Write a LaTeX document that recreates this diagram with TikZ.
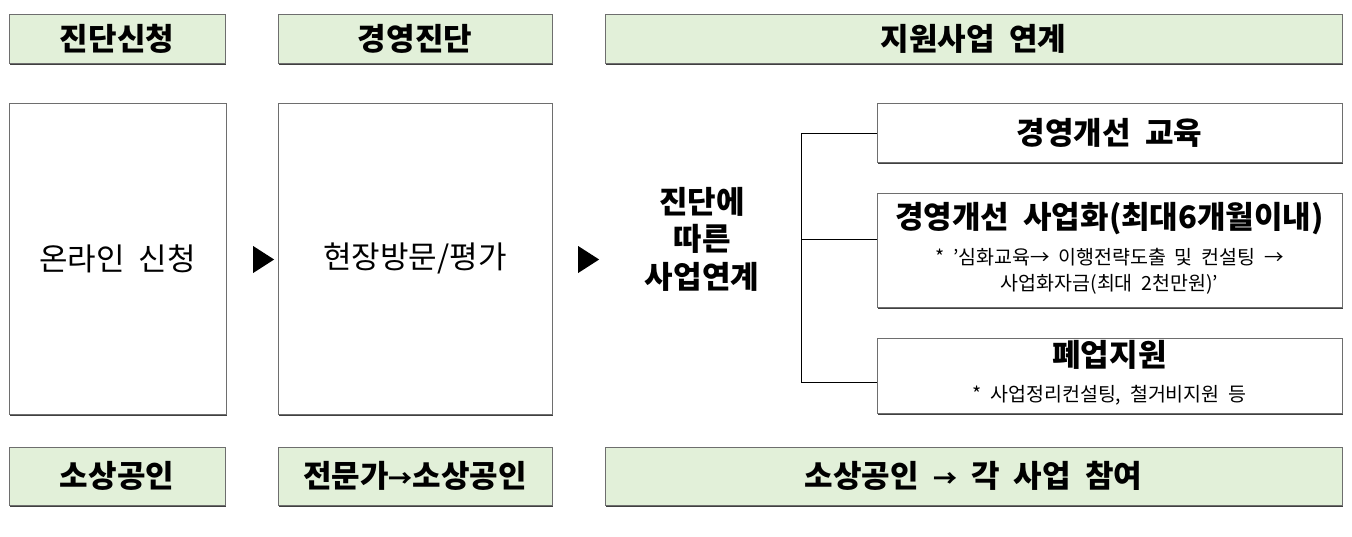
\documentclass[tikz,border=0pt]{standalone}
\usepackage{fontspec}
\setmainfont{Noto Sans CJK KR}
\usetikzlibrary{shadows,shapes.geometric}
\definecolor{hdrfill}{HTML}{E2F0D9}
\definecolor{edge}{HTML}{6E6E6E}
\tikzset{
  boxbase/.style={rectangle, draw=edge, line width=0.9pt, inner sep=0pt, align=center,
    drop shadow={shadow xshift=1.2pt, shadow yshift=-1.6pt, fill=black!75, opacity=1}},
  hdr/.style={boxbase, fill=hdrfill, font=\fontsize{31}{36}\selectfont\bfseries},
  bigbox/.style={boxbase, fill=white, font=\fontsize{31}{36}\selectfont},
  rbox/.style={boxbase, fill=white},
  bigbold/.style={font=\fontsize{31}{36}\selectfont\bfseries},
  smalltxt/.style={font=\fontsize{19.5}{26}\selectfont, align=center},
  tri/.style={isosceles triangle, isosceles triangle stretches, fill=black, draw=none, inner sep=0pt,
    minimum height=21pt, minimum width=27pt},
  link/.style={draw=black, line width=0.9pt},
}
\begin{document}
\begin{tikzpicture}[x=1pt,y=-1pt]
\useasboundingbox[fill=white] (0,0) rectangle (1352,536);
% headers
\node[hdr, minimum width=216, minimum height=49] (h1) at (117,38.5) {진단신청};
\node[hdr, minimum width=274, minimum height=49] (h2) at (415,38.5) {경영진단};
\node[hdr, minimum width=737, minimum height=49] (h3) at (973.5,38.5) {지원사업\ \ 연계};
% middle
\node[bigbox, minimum width=217, minimum height=311] (m1) at (117.5,258.5) {온라인\ \ 신청};
\node[bigbox, minimum width=274, minimum height=311] (m2) at (415,258.5) {현장방문/평가};
\node[tri] (t1) at (260.5,259.5) {};
\node[tri] (t2) at (585.5,259.5) {};
\node[align=center, font=\fontsize{31}{37.5}\selectfont\bfseries] (lk) at (702,239) {진단에\\따른\\사업연계};
% right boxes
\node[rbox, minimum width=465, minimum height=59] (r1) at (1109.5,133) {};
\node[bigbold] (r1t) at (r1.center) {경영개선\ \ 교육};
\node[rbox, minimum width=465, minimum height=114] (r2) at (1109.5,250) {};
\node[bigbold] (r2t) at (1109.5,219) {경영개선\ \ 사업화(최대6개월이내)};
\node[smalltxt] (r2s) at (1109.5,271) {*\ \ ’심화교육→\ \ 이행전략도출\ \ 및\ \ 컨설팅\ \ →\\사업화자금(최대\ \ 2천만원)’};
\node[rbox, minimum width=465, minimum height=75] (r3) at (1109.5,375.5) {};
\node[bigbold] (r3t) at (1109.5,355) {폐업지원};
\node[smalltxt] (r3s) at (1109.5,395) {*\ \ 사업정리컨설팅,\ \ 철거비지원\ \ 등};
% bracket
\coordinate (v1) at (801,133);
\coordinate (v2) at (801,239.5);
\coordinate (v3) at (801,382.5);
\draw[link] (r1.west) -- (v1) -- (v3) -- (r3.west |- v3);
\draw[link] (v2) -- (r2.west |- v2);
% bottom
\node[hdr, minimum width=216, minimum height=58] (b1) at (117,476) {소상공인};
\node[hdr, minimum width=274, minimum height=58] (b2) at (415,476) {전문가{\fontsize{24}{30}\selectfont→}소상공인};
\node[hdr, minimum width=737, minimum height=58] (b3) at (973.5,476) {소상공인\ \ {\fontsize{24}{30}\selectfont→}\ \ 각\ \ 사업\ \ 참여};
\end{tikzpicture}
\end{document}
